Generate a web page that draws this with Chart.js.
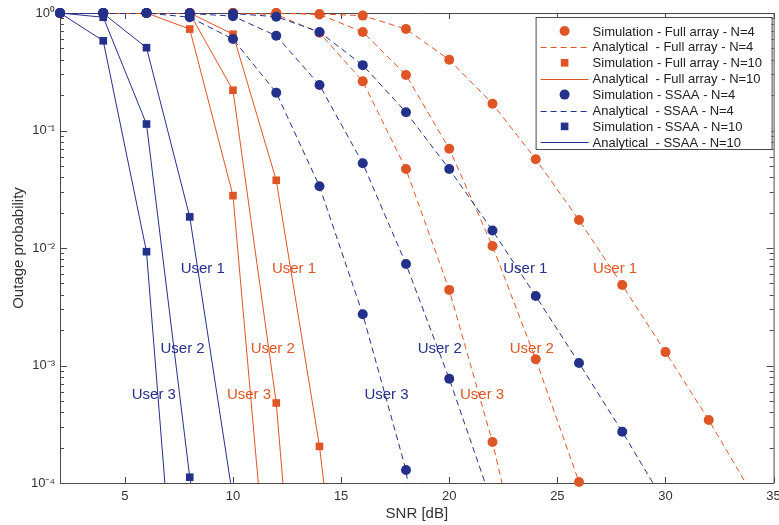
<!DOCTYPE html>
<html>
<head>
<meta charset="utf-8">
<script src="https://cdn.jsdelivr.net/npm/chart.js@4.4.1/dist/chart.umd.min.js"></script>
<style>
  html, body { margin: 0; padding: 0; background: #fff; }
</style>
</head>
<body>
<canvas id="chart" width="779" height="525"></canvas>
<script>
// axis ticks
const xTicks = [5, 10, 15, 20, 25, 30, 35];
const yTicks = [1e-4, 1e-3, 1e-2, 1e-1, 1];
const yTickText = ['10⁻⁴', '10⁻³', '10⁻²', '10⁻¹', '10⁰'];

// Full array, N=4 (simulation points, users 1..3)
const snrFaN4U1 = [2, 4, 6, 8, 10, 12, 14, 16, 18, 20, 22, 24, 26, 28, 30, 32];
const faN4U1 = [1, 1, 1, 1, 1, 1, 0.98, 0.95, 0.73, 0.40, 0.169, 0.057, 0.0173, 0.00484, 0.0013, 0.000344];
const snrFaN4U2 = [2, 4, 6, 8, 10, 12, 14, 16, 18, 20, 22, 24, 26];
const faN4U2 = [1, 1, 1, 1, 1, 1, 0.97, 0.69, 0.297, 0.070, 0.0104, 0.00113, 0.000102];
const snrFaN4U3 = [2, 4, 6, 8, 10, 12, 14, 16, 18, 20, 22];
const faN4U3 = [1, 1, 1, 1, 1, 0.97, 0.68, 0.262, 0.047, 0.0044, 0.000223];
// SNR where the analytical curve leaves the plot at 1e-4
const faN4End = [33.71, 26.06, 22.44];

// Full array, N=10
const snrFaN10U1 = [2, 4, 6, 8, 10, 12, 14];
const faN10U1 = [1, 1, 1, 1, 0.66, 0.0377, 0.000205];
const snrFaN10U2 = [2, 4, 6, 8, 10, 12];
const faN10U2 = [1, 1, 1, 0.99, 0.22, 0.00048];
const snrFaN10U3 = [2, 4, 6, 8, 10];
const faN10U3 = [1, 1, 1, 0.73, 0.0279];
const faN10End = [14.20, 12.31, 11.17];

// SSAA, N=4
const snrSsN4U1 = [2, 4, 6, 8, 10, 12, 14, 16, 18, 20, 22, 24, 26, 28];
const ssN4U1 = [1, 1, 1, 1, 0.99, 0.93, 0.69, 0.36, 0.143, 0.047, 0.0141, 0.0039, 0.00105, 0.000273];
const snrSsN4U2 = [2, 4, 6, 8, 10, 12, 14, 16, 18, 20];
const ssN4U2 = [1, 1, 1, 0.99, 0.94, 0.64, 0.244, 0.0526, 0.0073, 0.00077];
const snrSsN4U3 = [2, 4, 6, 8, 10, 12, 14, 16, 18];
const ssN4U3 = [1, 1, 1, 0.92, 0.60, 0.21, 0.0335, 0.00273, 0.000129];
const ssN4End = [29.42, 21.66, 18.08];

// SSAA, N=10
const snrSsN10U1 = [2, 4, 6, 8];
const ssN10U1 = [1, 0.99, 0.507, 0.0184];
const snrSsN10U2 = [2, 4, 6, 8];
const ssN10U2 = [1, 0.92, 0.1135, 0.000112];
const snrSsN10U3 = [2, 4, 6];
const ssN10U3 = [1, 0.58, 0.0093];
const ssN10End = [9.89, 8.05, 6.85];

// "User n" text labels
const userNames = ['User 1', 'User 2', 'User 3'];
const labelProb = [0.00667, 0.00138, 0.000561];
const labelSnrSsN10 = [8.60, 7.67, 6.34];
const labelSnrFaN10 = [12.82, 11.84, 10.74];
const labelSnrSsN4 = [23.52, 19.56, 17.10];
const labelSnrFaN4 = [27.67, 23.82, 21.52];

const ORANGE = '#DE5526';
const BLUE = '#24318A';
const FONT = '"Liberation Sans", Arial, Helvetica, sans-serif';
Chart.defaults.font.family = FONT;

const pts = (xs, ys) => xs.map((v, i) => ({ x: v, y: ys[i] }));

const datasets = [];
function addGroup(simLabel, anaLabel, color, style, dash, users, ends) {
  users.forEach((u, i) => {
    datasets.push({
      label: i === 0 ? simLabel : '',
      data: pts(u[0], u[1]),
      showLine: false,
      pointStyle: style,
      pointRadius: style === 'rect' ? 5.4 : 5,
      pointBackgroundColor: color,
      pointBorderColor: color,
      pointBorderWidth: 0,
      borderColor: color,
      backgroundColor: color,
      clip: false,
      order: -datasets.length
    });
  });
  users.forEach((u, i) => {
    datasets.push({
      label: i === 0 ? anaLabel : '',
      data: pts(u[0].concat([ends[i]]), u[1].concat([1e-4])),
      showLine: true,
      pointRadius: 0,
      borderColor: color,
      backgroundColor: color,
      borderWidth: 1,
      borderDash: dash,
      tension: 0,
      order: -datasets.length
    });
  });
}

addGroup('Simulation - Full array - N=4', 'Analytical  - Full array - N=4', ORANGE, 'circle', [6, 4],
  [[snrFaN4U1, faN4U1], [snrFaN4U2, faN4U2], [snrFaN4U3, faN4U3]], faN4End);
addGroup('Simulation - Full array - N=10', 'Analytical  - Full array - N=10', ORANGE, 'rect', [],
  [[snrFaN10U1, faN10U1], [snrFaN10U2, faN10U2], [snrFaN10U3, faN10U3]], faN10End);
addGroup('Simulation - SSAA - N=4', 'Analytical  - SSAA - N=4', BLUE, 'circle', [6, 4],
  [[snrSsN4U1, ssN4U1], [snrSsN4U2, ssN4U2], [snrSsN4U3, ssN4U3]], ssN4End);
addGroup('Simulation - SSAA - N=10', 'Analytical  - SSAA - N=10', BLUE, 'rect', [],
  [[snrSsN10U1, ssN10U1], [snrSsN10U2, ssN10U2], [snrSsN10U3, ssN10U3]], ssN10End);

// box + inward ticks, MATLAB style
const frame = {
  id: 'frame',
  beforeDatasetsDraw(chart) {
    const { ctx, chartArea: a, scales: { x, y } } = chart;
    ctx.save();
    ctx.strokeStyle = '#4a4a4a';
    ctx.lineWidth = 1;
    ctx.beginPath();
    ctx.rect(a.left + 0.5, a.top + 0.5, a.right - a.left, a.bottom - a.top);
    xTicks.forEach(v => {
      const px = Math.round(x.getPixelForValue(v)) + 0.5;
      ctx.moveTo(px, a.bottom); ctx.lineTo(px, a.bottom - 6);
      ctx.moveTo(px, a.top); ctx.lineTo(px, a.top + 6);
    });
    for (let d = -4; d <= 0; d++) {
      for (let m = 1; m <= 9; m++) {
        const v = m * Math.pow(10, d);
        if (v > 1) break;
        const py = Math.round(y.getPixelForValue(v)) + 0.5;
        const len = m === 1 ? 7 : 4;
        ctx.moveTo(a.left, py); ctx.lineTo(a.left + len, py);
        ctx.moveTo(a.right, py); ctx.lineTo(a.right - len, py);
      }
    }
    ctx.stroke();
    ctx.restore();
  }
};

// user labels and legend box
const overlay = {
  id: 'overlay',
  afterDatasetsDraw(chart) {
    const { ctx, chartArea: a, scales: { x, y } } = chart;
    ctx.save();
    ctx.font = '15px ' + FONT;
    ctx.textAlign = 'center';
    ctx.textBaseline = 'middle';
    [[labelSnrSsN10, BLUE], [labelSnrFaN10, ORANGE], [labelSnrSsN4, BLUE], [labelSnrFaN4, ORANGE]].forEach(([snr, col]) => {
      ctx.fillStyle = col;
      snr.forEach((s, i) => ctx.fillText(userNames[i], x.getPixelForValue(s), y.getPixelForValue(labelProb[i])));
    });

    // legend
    const items = chart.data.datasets.filter(d => d.label);
    const bw = 236, bh = 132;
    const bx = a.right - bw - 2, by = a.top + 4;
    ctx.fillStyle = '#fff';
    ctx.fillRect(bx, by, bw, bh);
    ctx.strokeStyle = '#4a4a4a';
    ctx.lineWidth = 1;
    ctx.strokeRect(bx + 0.5, by + 0.5, bw, bh);
    ctx.font = '13px ' + FONT;
    ctx.textAlign = 'left';
    items.forEach((d, i) => {
      const ry = by + 14 + i * 15.9;
      const cx = bx + 29;
      if (d.showLine) {
        ctx.strokeStyle = d.borderColor;
        ctx.setLineDash(d.borderDash);
        ctx.beginPath();
        ctx.moveTo(bx + 5, Math.round(ry) + 0.5);
        ctx.lineTo(bx + 53, Math.round(ry) + 0.5);
        ctx.stroke();
        ctx.setLineDash([]);
      } else {
        ctx.fillStyle = d.pointBackgroundColor;
        ctx.beginPath();
        if (d.pointStyle === 'rect') {
          const h = d.pointRadius * Math.SQRT1_2;
          ctx.rect(cx - h, ry - h, 2 * h, 2 * h);
        } else {
          ctx.arc(cx, ry, d.pointRadius, 0, Math.PI * 2);
        }
        ctx.fill();
      }
      ctx.fillStyle = '#222';
      ctx.fillText(d.label, bx + 57, ry + 1);
    });
    ctx.restore();
  }
};

new Chart(document.getElementById('chart'), {
  type: 'line',
  data: { datasets },
  options: {
    responsive: false,
    animation: false,
    devicePixelRatio: 1,
    layout: { padding: { top: 13, right: 5, left: 0, bottom: 0 } },
    plugins: { legend: { display: false }, tooltip: { enabled: false } },
    scales: {
      x: {
        type: 'linear',
        min: 2,
        max: 35,
        grid: { display: false, drawTicks: false },
        border: { display: false },
        ticks: { color: '#333', font: { size: 13 }, padding: 6, maxRotation: 0, autoSkip: false },
        afterBuildTicks: s => { s.ticks = xTicks.map(v => ({ value: v })); },
        afterFit: s => { s.height = 42; s.paddingLeft = 0; s.paddingRight = 0; },
        title: { display: true, text: 'SNR [dB]', color: '#333', font: { size: 15 }, padding: { top: 0, bottom: 2 } }
      },
      y: {
        type: 'logarithmic',
        min: 1e-4,
        max: 1,
        grid: { display: false, drawTicks: false },
        border: { display: false },
        ticks: {
          color: '#333',
          font: { size: 13 },
          padding: 5,
          callback: v => {
            const k = yTicks.findIndex(t => Math.abs(t - v) / t < 1e-6);
            return k >= 0 ? yTickText[k] : '';
          }
        },
        afterBuildTicks: s => { s.ticks = yTicks.map(v => ({ value: v })); },
        afterFit: s => { s.width = 60; s.paddingTop = 0; s.paddingBottom = 0; },
        title: { display: true, text: 'Outage probability', color: '#333', font: { size: 15 }, padding: { top: 10, bottom: 0 } }
      }
    }
  },
  plugins: [frame, overlay]
});
</script>
</body>
</html>
